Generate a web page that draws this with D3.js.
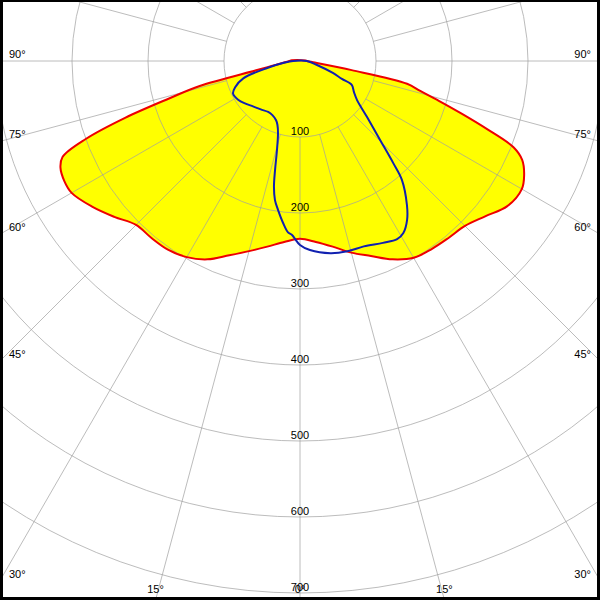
<!DOCTYPE html>
<html>
<head>
<meta charset="utf-8">
<script src="https://cdn.jsdelivr.net/npm/d3@7"></script>
<style>
  html, body { margin: 0; padding: 0; background: #fff; }
  svg { display: block; }
  text { font-family: "Liberation Sans", Arial, sans-serif; font-size: 11px; }
</style>
</head>
<body>
<script>
// ---- data (intensity) ----
const ringValues = [100, 200, 300, 400, 500, 600, 700];
const spokeStep = 15;
const angleLabels = [90, 75, 60, 45, 30, 15, 0];

// red curve (filled yellow): same gamma grid for both halves
const redAngles = [0, 5, 10, 15, 20, 25, 30, 35, 40, 45, 50, 55, 60, 63, 66, 68, 70, 72, 74, 76, 78, 80, 85, 90, 95];
const redRight  = [234, 239, 248, 261, 273, 288, 299, 302, 304, 307, 318, 333, 337, 331, 320, 303, 262, 223, 190, 163, 144, 69, 16, 9, 7];
const redLeft   = [234, 239, 248, 259, 272, 288, 298, 303, 304, 305, 319, 334, 347, 348, 345, 337, 300, 242, 180, 136, 59, 38, 20, 14, 11];

// blue curve
const blueRightAngles = [0, 3, 9, 14, 19, 24.5, 28.6, 31, 34, 36.6, 40.6, 42.4, 45.4, 50.1, 55.6, 60, 65.2, 66.8, 70, 76.8, 90];
const blueRight       = [242, 249, 256, 258, 258, 263, 267, 264, 252, 236, 206, 182, 148, 115, 91, 82, 75, 60, 46, 23, 9];
const blueLeftAngles  = [0, 2.7, 4, 6, 8.4, 10.2, 11.7, 12.9, 14.5, 17, 19.5, 22, 27, 32, 39, 46, 52, 58, 64, 68, 73, 78, 84, 90];
const blueLeft        = [242, 229, 226, 214, 198, 186, 169, 147, 121, 99, 89, 84, 80, 79, 82, 86, 91, 96, 98, 92, 78, 44, 20, 9];

// ---- layout ----
const W = 600, H = 600;
const cx = 300, cy = 61;
const r = d3.scaleLinear().domain([0, 100]).range([0, 76]);
const rad = Math.PI / 180;

const svg = d3.select("body").append("svg").attr("width", W).attr("height", H);
svg.append("defs").append("clipPath").attr("id", "clip")
  .append("rect").attr("x", 0).attr("y", 0).attr("width", W).attr("height", H);

const g = svg.append("g").attr("clip-path", "url(#clip)");
const plot = g.append("g").attr("transform", `translate(${cx},${cy})`);

// build point lists: d3 radial angle = clockwise from top; nadir = PI
function half(angles, vals, side) {
  return angles.map((a, i) => ({ ang: side > 0 ? Math.PI - a * rad : Math.PI + a * rad, v: vals[i] }));
}
const redPts = half(redAngles, redRight, 1).reverse().concat(half(redAngles, redLeft, -1).slice(1));
const bluePts = half(blueRightAngles, blueRight, 1).reverse().concat(half(blueLeftAngles, blueLeft, -1).slice(1));

const radial = d3.lineRadial().angle(d => d.ang).radius(d => r(d.v));

// yellow fill
plot.append("path")
  .attr("d", radial.curve(d3.curveCatmullRomClosed.alpha(0.5))(redPts))
  .attr("fill", "#ffff00").attr("stroke", "none");

// grid
const grid = plot.append("g").attr("stroke", "#a0a0a0").attr("stroke-opacity", 0.7).attr("fill", "none").attr("stroke-width", 1);
grid.selectAll("circle").data(ringValues).join("circle")
  .attr("r", d => r(d)).attr("cx", 0).attr("cy", 0);
const spokes = d3.range(0, 360, spokeStep);
grid.selectAll("line").data(spokes).join("line")
  .attr("x1", d => r(100) * Math.sin(d * rad)).attr("y1", d => r(100) * Math.cos(d * rad))
  .attr("x2", d => r(1200) * Math.sin(d * rad)).attr("y2", d => r(1200) * Math.cos(d * rad));

// red outline
plot.append("path")
  .attr("d", radial.curve(d3.curveCatmullRomClosed.alpha(0.5))(redPts))
  .attr("fill", "none").attr("stroke", "#ee0000").attr("stroke-width", 2).attr("stroke-linejoin", "round");

// blue line
plot.append("path")
  .attr("d", radial.curve(d3.curveCatmullRomClosed.alpha(0.5))(bluePts))
  .attr("fill", "none").attr("stroke", "#1020b0").attr("stroke-width", 2).attr("stroke-linejoin", "round");

// ring labels
g.selectAll("text.ring").data(ringValues).join("text").attr("class", "ring")
  .attr("x", cx).attr("y", d => cy + r(d) - 2)
  .attr("fill", "#000")
  .attr("text-anchor", "middle").text(d => d);

// angle labels along frame
const labels = [];
angleLabels.forEach(a => {
  [-1, 1].forEach(s => {
    if (a === 0 && s > 0) return;
    const sa = Math.sin(a * rad), ca = Math.cos(a * rad);
    const tx = sa > 1e-6 ? (W / 2) / sa : Infinity;
    const ty = ca > 1e-6 ? (H - cy) / ca : Infinity;
    if (tx < ty) {
      const hy = cy + tx * ca;
      labels.push({ t: a + "°", x: s < 0 ? 9 : 591, y: hy - 3, anchor: s < 0 ? "start" : "end" });
    } else {
      labels.push({ t: a + "°", x: cx + s * ty * sa, y: 593, anchor: "middle" });
    }
  });
});
g.selectAll("text.ang").data(labels).join("text").attr("class", "ang")
  .attr("x", d => d.x).attr("y", d => d.y).attr("text-anchor", d => d.anchor)
  .attr("fill", "#000").text(d => d.t);

// frame
svg.append("rect").attr("x", 0).attr("y", 0).attr("width", 3).attr("height", H).attr("fill", "#000");
svg.append("rect").attr("x", W - 3).attr("y", 0).attr("width", 3).attr("height", H).attr("fill", "#000");
svg.append("rect").attr("x", 0).attr("y", H - 3).attr("width", W).attr("height", 3).attr("fill", "#000");
svg.append("rect").attr("x", 0).attr("y", 0).attr("width", W).attr("height", 2).attr("fill", "#000");
</script>
</body>
</html>
